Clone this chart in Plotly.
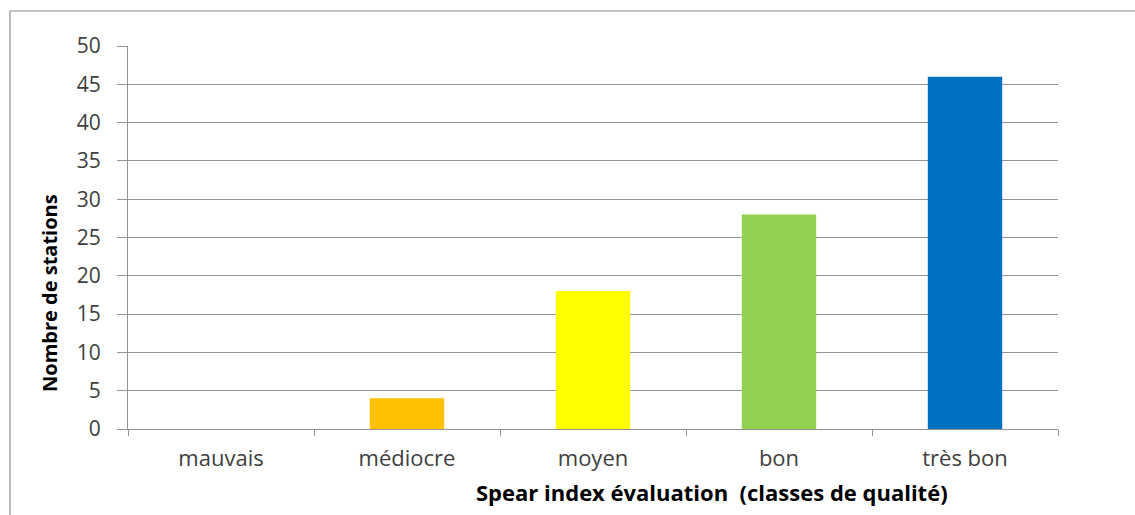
import plotly.graph_objects as go

# Quality classes and station counts
categories = ["mauvais", "médiocre", "moyen", "bon", "très bon"]
stations = [0, 4, 18, 28, 46]
bar_colors = ["#C0504D", "#FFC000", "#FFFF00", "#92D050", "#0070C0"]
y_ticks = list(range(0, 51, 5))

W, H = 1135, 515
L, R, T, B = 128, 77, 46, 86
pw, ph = W - L - R, H - T - B

def px_x(x):
    return (x - L) / pw

def px_y(y):
    return (H - B - y) / ph

FONT = "Open Sans"
GRID = "#939393"

fig = go.Figure(
    go.Bar(
        x=categories,
        y=stations,
        marker=dict(color=bar_colors, line=dict(width=0)),
        hoverinfo="x+y",
    )
)

fig.update_layout(
    width=W,
    height=H,
    margin=dict(l=L, r=R, t=T, b=B, autoexpand=False),
    paper_bgcolor="white",
    plot_bgcolor="white",
    bargap=0.6,
    showlegend=False,
    font=dict(family=FONT, color="#404040"),
    shapes=[
        # chart frame (left and top edges)
        dict(type="line", xref="paper", yref="paper",
             x0=px_x(10), x1=px_x(10), y0=px_y(11), y1=px_y(H + 5),
             line=dict(color="#8a8a8a", width=1.2)),
        dict(type="line", xref="paper", yref="paper",
             x0=px_x(10), x1=px_x(W + 5), y0=px_y(11), y1=px_y(11),
             line=dict(color="#8a8a8a", width=1.2)),
    ],
    annotations=[
        dict(text="<b>Nombre de stations</b>", xref="paper", yref="paper",
             x=px_x(49), y=px_y(293), textangle=-90, showarrow=False,
             font=dict(family=FONT, size=20, color="black"),
             xanchor="center", yanchor="middle"),
        dict(text="<b>Spear index évaluation  (classes de qualité)</b>",
             xref="paper", yref="paper",
             x=px_x(712), y=px_y(492), showarrow=False,
             font=dict(family=FONT, size=22, color="black"),
             xanchor="center", yanchor="middle"),
    ],
)

fig.update_xaxes(
    type="category",
    showgrid=False,
    showline=True,
    linecolor=GRID,
    linewidth=1,
    ticks="outside",
    tickson="boundaries",
    ticklen=6,
    tickcolor=GRID,
    tickfont=dict(family=FONT, size=22, color="#404040"),
    ticklabelstandoff=10,
)

fig.update_yaxes(
    range=[0, 50],
    tickvals=y_ticks,
    showgrid=True,
    gridcolor=GRID,
    gridwidth=1,
    showline=True,
    linecolor=GRID,
    linewidth=1,
    ticks="outside",
    ticklen=10,
    tickcolor=GRID,
    tickfont=dict(family=FONT, size=21, color="#404040"),
    ticklabelstandoff=12,
    zeroline=False,
)

fig.write_html("out.html")
